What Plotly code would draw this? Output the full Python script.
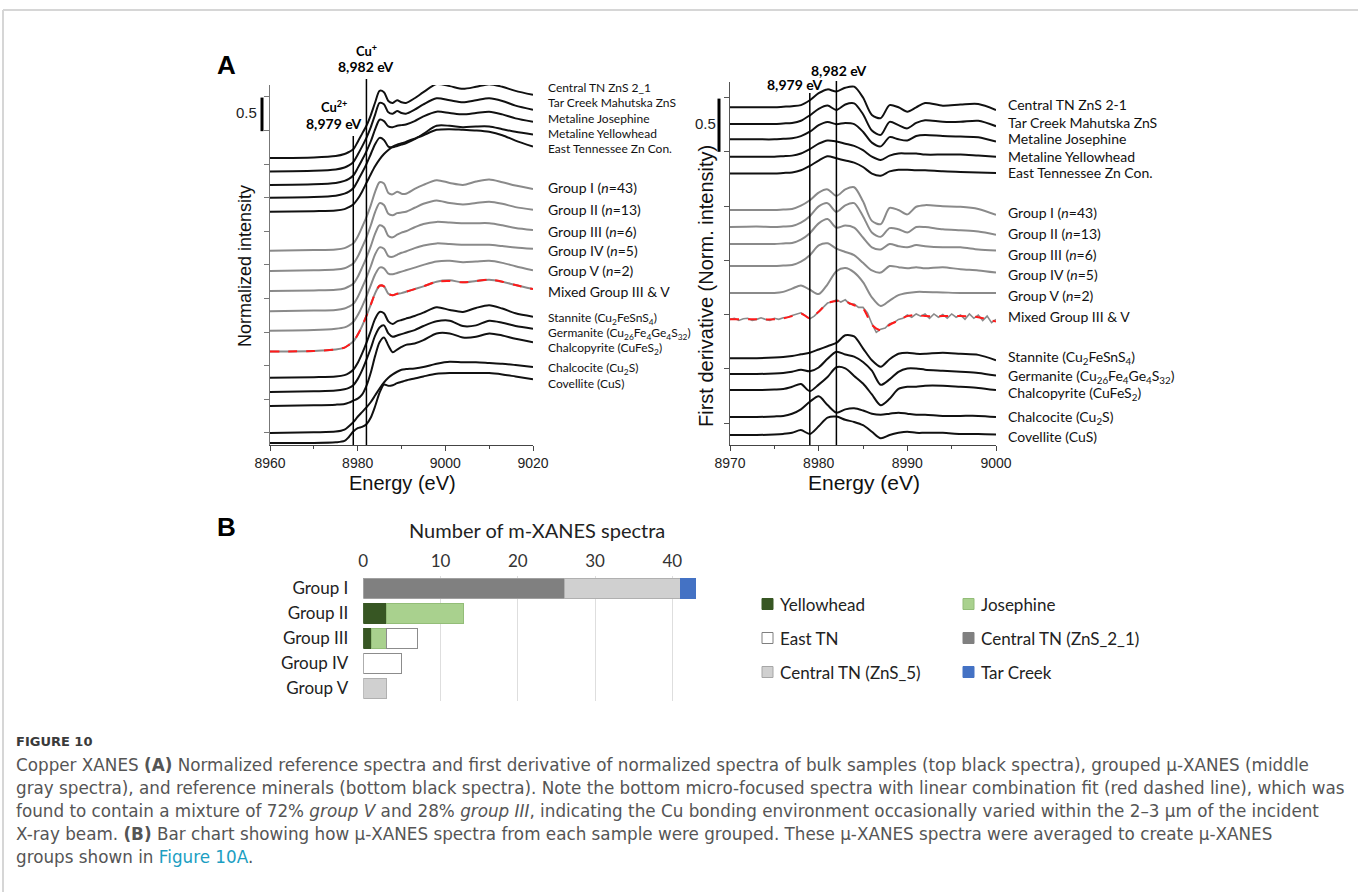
import numpy as np
import plotly.graph_objects as go

W, H = 1358, 892
def fx(p):
    return p / W
def fy(p):
    return 1 - p / H

# ---------------- DATA: normalized XANES (panel A, left) ----------------
energy_norm = [8960, 8970, 8975, 8977, 8978, 8979, 8980, 8981, 8982, 8983, 8984, 8985, 8986, 8987,
               8988, 8989, 8990, 8991, 8993, 8995, 8998, 9001, 9004, 9007, 9010, 9013, 9016, 9020]
norm_central_tn = [0, .01, .03, .06, .09, .13, .24, .36, .48, .64, .83, 1.0, .98, .85, .82, .86, .83, .82, .89, .98, 1.10, 1.07, 1.03, 1.06, 1.10, 1.06, 1.0, .94]
norm_tar_creek = [0, .01, .03, .06, .09, .14, .25, .37, .50, .66, .85, 1.02, 1.0, .88, .86, .90, .87, .86, .92, 1.0, 1.09, 1.06, 1.03, 1.06, 1.09, 1.05, .98, .92]
norm_josephine = [0, .01, .03, .06, .09, .14, .25, .37, .50, .65, .83, .97, .95, .87, .86, .88, .89, .90, .95, 1.02, 1.09, 1.07, 1.05, 1.07, 1.09, 1.05, .99, .94]
norm_yellowhead = [0, .01, .03, .06, .09, .14, .25, .37, .50, .65, .80, .89, .86, .76, .75, .77, .79, .81, .87, .95, 1.07, 1.07, 1.05, 1.06, 1.06, 1.02, .98, .94]
norm_east_tn = [0, .01, .02, .04, .07, .11, .19, .30, .43, .56, .68, .78, .86, .92, .97, 1.0, 1.02, 1.04, 1.09, 1.14, 1.22, 1.23, 1.22, 1.21, 1.19, 1.14, 1.06, .97]
norm_group1 = [0, .01, .02, .04, .07, .11, .21, .35, .50, .68, .88, 1.02, 1.0, .86, .84, .88, .85, .85, .92, .98, 1.05, 1.01, .98, 1.03, 1.06, 1.02, .97, .92]
norm_group2 = [0, .01, .02, .04, .07, .11, .21, .35, .50, .68, .88, 1.01, .98, .85, .83, .86, .87, .88, .94, 1.0, 1.05, 1.01, .99, 1.01, 1.03, 1.0, .95, .91]
norm_group3 = [0, .01, .02, .04, .07, .11, .21, .35, .50, .67, .86, .98, .95, .82, .80, .84, .87, .89, .95, 1.0, 1.03, 1.02, 1.01, 1.01, 1.01, .98, .94, .91]
norm_group4 = [0, .01, .02, .04, .07, .11, .21, .35, .50, .67, .85, .95, .93, .82, .81, .84, .87, .89, .94, .98, 1.01, 1.0, .99, .99, .99, .97, .95, .93]
norm_group5 = [0, .01, .03, .05, .08, .13, .23, .36, .51, .68, .84, .94, .93, .85, .84, .86, .88, .90, .94, .98, 1.03, 1.04, 1.02, 1.03, 1.04, 1.01, .96, .90]
norm_mixed = [0, .01, .03, .06, .10, .15, .25, .38, .53, .70, .87, .98, .97, .86, .84, .86, .87, .89, .93, .97, 1.04, 1.06, 1.03, 1.05, 1.07, 1.04, .99, .93]
norm_mixed_fit = [0, .01, .03, .06, .10, .15, .25, .38, .53, .70, .87, .98, .97, .86, .84, .86, .87, .89, .93, .97, 1.04, 1.05, 1.03, 1.05, 1.07, 1.04, .99, .93]
norm_stannite = [0, .01, .02, .04, .07, .12, .22, .36, .52, .70, .88, .98, .96, .84, .80, .84, .86, .88, .92, .97, 1.05, 1.01, .98, 1.04, 1.08, 1.03, .96, .91]
norm_germanite = [0, .01, .02, .04, .06, .10, .19, .32, .48, .65, .84, .96, .99, .87, .82, .84, .86, .88, .92, .98, 1.05, 1.06, .98, .99, 1.06, 1.03, .98, .94]
norm_chalcopyrite = [0, .01, .02, .03, .05, .08, .11, .17, .30, .50, .75, .95, 1.02, .90, .80, .84, .88, .91, .93, .98, 1.08, 1.08, 1.02, 1.03, 1.08, 1.05, 1.0, .95]
norm_chalcocite = [0, .01, .02, .05, .10, .16, .24, .31, .38, .46, .56, .66, .75, .82, .87, .91, .94, .95, .96, .98, 1.03, 1.06, 1.05, 1.05, 1.04, 1.03, 1.01, .98]
norm_covellite = [0, .0, .01, .03, .09, .17, .22, .24, .28, .38, .55, .75, .87, .85, .86, .89, .91, .93, .96, .99, 1.03, 1.04, 1.04, 1.04, 1.04, 1.02, .99, .95]

# ---------------- DATA: first derivative (panel A, right) ----------------
energy_deriv = [8970, 8973, 8975, 8976, 8977, 8978, 8979, 8980, 8981, 8982, 8983, 8984, 8985, 8986,
                8987, 8988, 8989, 8990, 8991, 8992, 8994, 8996, 8998, 9000]
deriv_central_tn = [0, 0, 0, .005, .01, .02, .065, .13, .165, .145, .18, .19, .09, -.07, -.10, .02, .0, -.04, .0, .04, .015, .025, .03, -.025]
deriv_tar_creek = [0, 0, 0, .005, .01, .03, .08, .14, .17, .13, .18, .19, .09, -.06, -.10, .02, -.01, -.04, .01, .035, .02, .02, .03, -.02]
deriv_josephine = [0, 0, 0, .005, .01, .03, .07, .13, .16, .14, .15, .14, .07, -.03, -.065, .02, .0, -.01, .03, .04, .03, .025, .02, -.02]
deriv_yellowhead = [0, 0, 0, .005, .01, .03, .07, .12, .15, .14, .12, .10, .06, .0, -.03, .01, .03, .03, .03, .02, .02, .02, .01, .0]
deriv_east_tn = [0, 0, 0, .005, .01, .03, .07, .12, .16, .14, .12, .10, .06, .0, -.02, .02, .035, .035, .03, .03, .02, .015, .01, .005]
deriv_group1 = [0, 0, 0, .005, .01, .04, .09, .16, .19, .13, .19, .21, .08, -.10, -.13, .02, .0, -.04, .03, .045, .035, .03, .01, -.045]
deriv_group2 = [0, .005, 0, .005, .01, .04, .10, .19, .22, .14, .20, .22, .10, -.05, -.09, -.01, -.02, -.05, .0, .0, -.02, -.03, -.04, -.07]
deriv_group3 = [0, 0, 0, .005, .01, .04, .10, .19, .23, .15, .17, .15, .06, -.03, -.05, .0, -.02, -.03, -.01, -.02, -.03, -.03, -.05, -.06]
deriv_group4 = [0, 0, 0, .005, .01, .04, .10, .19, .21, .16, .13, .10, .03, -.04, -.06, .0, -.01, -.02, -.01, -.02, -.01, -.03, -.04, -.06]
deriv_group5 = [0, 0, 0, .01, .04, .07, .03, -.01, .08, .20, .23, .19, .10, -.04, -.12, -.07, -.02, .0, .01, .01, .005, .0, .0, .0]
deriv_mixed_fit = [0, 0, 0, .01, .03, .055, .01, .07, .15, .17, .165, .13, .10, -.05, -.10, -.05, -.01, .03, .04, .03, .03, .03, .02, -.02]
deriv_stannite = [0, 0, .005, .01, .02, .035, .05, .08, .11, .14, .21, .20, .09, -.02, -.08, -.01, .04, .05, .04, .04, .05, .04, .03, -.02]
deriv_germanite = [0, 0, .005, .01, .02, .04, .025, .06, .14, .205, .18, .16, .11, .03, -.10, -.05, .02, .05, .05, .04, .03, .02, .01, -.015]
deriv_chalcopyrite = [0, 0, .005, .01, .03, .055, -.01, .05, .12, .21, .20, .13, .06, -.04, -.14, -.08, .01, .03, .03, .04, .04, .03, .02, .0]
deriv_chalcocite = [0, 0, .005, .01, .03, .07, .14, .19, .11, .04, .07, .08, .06, .03, .02, .03, .04, .03, .02, .02, .01, .01, .01, .0]
deriv_covellite = [0, 0, .005, .01, .02, .045, .01, .08, .16, .17, .14, .12, .09, .03, -.03, .0, .02, .03, .02, .02, .02, .01, .01, .005]

# noisy micro-focused spectrum (mixed group III & V), 0.5 eV steps 8970-9000
energy_mixed_raw = list(np.arange(8970, 9000.01, 0.5))
deriv_mixed_raw = [.00, .01, -.01, .005, .01, -.01, .00, .015, .00, -.01, .01, .00, .015, .02, .035, .05,
                   .06, .035, .005, .03, .07, .11, .15, .16, .18, .16, .18, .14, .14, .11, .11, .06,
                   -.04, -.12, -.09, -.08, -.04, -.03, .00, .01, .04, .02, .05, .03, .05, .01, .05, .02,
                   .045, .01, .05, .02, .04, .00, .05, .01, .04, -.01, .03, -.03, .00]

# ---------------- DATA: panel B bar chart ----------------
groups = ["Group I", "Group II", "Group III", "Group IV", "Group V"]
count_yellowhead = [None, 3, 1, None, None]
count_josephine = [None, 10, 2, None, None]
count_east_tn = [None, None, 4, 5, None]
count_central_2_1 = [26, None, None, None, None]
count_central_5 = [15, None, None, None, 3]
count_tar_creek = [2, None, None, None, None]
count_ticks = [0, 10, 20, 30, 40]

# ---------------- styling / layout ----------------
BLACK = "#111111"
GRAY = "#8a8a8a"
RED = "#ff1a1a"

fig = go.Figure()

left_series = [
    ("Central TN ZnS 2_1", norm_central_tn, 4.27, BLACK),
    ("Tar Creek Mahutska ZnS", norm_tar_creek, 4.07, BLACK),
    ("Metaline Josephine", norm_josephine, 3.87, BLACK),
    ("Metaline Yellowhead", norm_yellowhead, 3.68, BLACK),
    ("East Tennessee Zn Con.", norm_east_tn, 3.47, BLACK),
    ("Group I", norm_group1, 2.89, GRAY),
    ("Group II", norm_group2, 2.59, GRAY),
    ("Group III", norm_group3, 2.29, GRAY),
    ("Group IV", norm_group4, 1.99, GRAY),
    ("Group V", norm_group5, 1.70, GRAY),
    ("Mixed Group III & V", norm_mixed, 1.39, GRAY),
    ("Stannite", norm_stannite, 1.00, BLACK),
    ("Germanite", norm_germanite, 0.79, BLACK),
    ("Chalcopyrite", norm_chalcopyrite, 0.58, BLACK),
    ("Chalcocite", norm_chalcocite, 0.18, BLACK),
    ("Covellite", norm_covellite, 0.03, BLACK),
]
for name, vals, off, col in left_series:
    fig.add_trace(go.Scatter(x=energy_norm, y=np.array(vals) + off, mode="lines", name=name,
                             line=dict(color=col, width=2, shape="spline", smoothing=0.8),
                             xaxis="x", yaxis="y", showlegend=False))
fig.add_trace(go.Scatter(x=energy_norm, y=np.array(norm_mixed_fit) + 1.39, mode="lines",
                         name="LCF fit", line=dict(color=RED, width=2, dash="dash", shape="spline", smoothing=0.8),
                         xaxis="x", yaxis="y", showlegend=False))

right_series = [
    ("Central TN ZnS 2-1", deriv_central_tn, 3.11, BLACK),
    ("Tar Creek Mahutska ZnS", deriv_tar_creek, 2.956, BLACK),
    ("Metaline Josephine", deriv_josephine, 2.815, BLACK),
    ("Metaline Yellowhead", deriv_yellowhead, 2.655, BLACK),
    ("East Tennessee Zn Con.", deriv_east_tn, 2.50, BLACK),
    ("Group I", deriv_group1, 2.164, GRAY),
    ("Group II", deriv_group2, 2.007, GRAY),
    ("Group III", deriv_group3, 1.851, GRAY),
    ("Group IV", deriv_group4, 1.648, GRAY),
    ("Group V", deriv_group5, 1.40, GRAY),
    ("Stannite", deriv_stannite, 0.80, BLACK),
    ("Germanite", deriv_germanite, 0.654, BLACK),
    ("Chalcopyrite", deriv_chalcopyrite, 0.506, BLACK),
    ("Chalcocite", deriv_chalcocite, 0.258, BLACK),
    ("Covellite", deriv_covellite, 0.092, BLACK),
]
for name, vals, off, col in right_series:
    fig.add_trace(go.Scatter(x=energy_deriv, y=np.array(vals) + off, mode="lines", name=name,
                             line=dict(color=col, width=2, shape="spline", smoothing=0.8),
                             xaxis="x2", yaxis="y2", showlegend=False))
fig.add_trace(go.Scatter(x=energy_mixed_raw, y=np.array(deriv_mixed_raw) + 1.157, mode="lines",
                         name="Mixed Group III & V", line=dict(color=GRAY, width=1.6),
                         xaxis="x2", yaxis="y2", showlegend=False))
fig.add_trace(go.Scatter(x=energy_deriv, y=np.array(deriv_mixed_fit) + 1.157, mode="lines",
                         name="LCF fit", line=dict(color=RED, width=2, dash="dash", shape="spline", smoothing=0.8),
                         xaxis="x2", yaxis="y2", showlegend=False))

# ---- panel B bars ----
bar_specs = [
    ("Yellowhead", count_yellowhead, "#375623", "#375623"),
    ("Josephine", count_josephine, "#a9d18e", "#93bd78"),
    ("East TN", count_east_tn, "#ffffff", "#8c8c8c"),
    ("Central TN (ZnS_2_1)", count_central_2_1, "#808080", "#a0a0a0"),
    ("Central TN (ZnS_5)", count_central_5, "#d0d0d0", "#b0b0b0"),
    ("Tar Creek", count_tar_creek, "#4472c4", "#4472c4"),
]
for name, vals, fill, edge in bar_specs:
    fig.add_trace(go.Bar(y=groups, x=vals, orientation="h", name=name,
                         marker=dict(color=fill, line=dict(color=edge, width=1)),
                         xaxis="x3", yaxis="y3", showlegend=False))

AX_FONT = dict(family="Liberation Sans", size=14, color="#222")
fig.update_layout(
    width=W, height=H, margin=dict(l=0, r=0, t=0, b=0, pad=0, autoexpand=False),
    paper_bgcolor="white", plot_bgcolor="rgba(0,0,0,0)", showlegend=False,
    barmode="stack", bargap=0.2,
    xaxis=dict(domain=[fx(270), fx(533)], range=[8960, 9020], tickvals=[8960, 8980, 9000, 9020],
               ticks="outside", ticklen=5, tickcolor="#444", showline=True, linecolor="#444", linewidth=1.2,
               minor=dict(dtick=10, ticks="outside", ticklen=3, tickcolor="#444"), automargin=False,
               showgrid=False, zeroline=False, tickfont=AX_FONT, anchor="y"),
    yaxis=dict(domain=[fy(445), fy(85)], range=[0, 5.357], tick0=0.18, dtick=0.5, ticks="outside",
               ticklen=5, tickcolor="#777", showticklabels=False, showline=True, linecolor="#777",
               linewidth=1.2, showgrid=False, zeroline=False, anchor="x", automargin=False),
    xaxis2=dict(domain=[fx(730), fx(996)], range=[8970, 9000], tickvals=[8970, 8980, 8990, 9000],
                ticks="outside", ticklen=5, tickcolor="#444", showline=True, linecolor="#444", linewidth=1.2,
                minor=dict(dtick=5, ticks="outside", ticklen=3, tickcolor="#444"), automargin=False,
                showgrid=False, zeroline=False, tickfont=AX_FONT, anchor="y2"),
    yaxis2=dict(domain=[fy(445), fy(82)], range=[0, 3.343], tick0=0.2, dtick=0.5, ticks="outside",
                ticklen=5, tickcolor="#555", showticklabels=False, showline=True, linecolor="#555",
                linewidth=1.2, showgrid=False, zeroline=False, anchor="x2", automargin=False),
    xaxis3=dict(domain=[fx(363.3), fx(711)], range=[0, 45], tickvals=count_ticks, side="top",
                showgrid=True, gridcolor="#dedede", gridwidth=1, zeroline=False, showline=False,
                ticks="", ticklabelstandoff=4, automargin=False,
                tickfont=dict(family="Lato", size=17, color="#333"), anchor="y3"),
    yaxis3=dict(domain=[fy(700.5), fy(575.5)], type="category", categoryorder="array",
                categoryarray=groups, autorange="reversed", showgrid=False, zeroline=False,
                showline=False, ticks="", ticklabelstandoff=14, automargin=False,
                tickfont=dict(family="Lato", size=17, color="#222"), anchor="x3"),
)

shapes = []
# outer frame
shapes.append(dict(type="line", xref="paper", yref="paper", x0=fx(3), x1=1, y0=fy(10), y1=fy(10),
                   line=dict(color="#d6d6d6", width=2)))
shapes.append(dict(type="line", xref="paper", yref="paper", x0=fx(3), x1=fx(3), y0=fy(10), y1=0,
                   line=dict(color="#d6d6d6", width=2)))
# edge-energy markers
for xr, e, top in [("x", 8979, 136), ("x", 8982, 79), ("x2", 8979, 93), ("x2", 8982, 81)]:
    shapes.append(dict(type="line", xref=xr, yref="paper", x0=e, x1=e, y0=fy(445), y1=fy(top),
                       line=dict(color="#000", width=1.5)))
# 0.5 scale bars
shapes.append(dict(type="line", xref="paper", yref="y", x0=fx(262), x1=fx(262), y0=4.67, y1=5.17,
                   line=dict(color="#000", width=3)))
shapes.append(dict(type="line", xref="paper", yref="y2", x0=fx(719), x1=fx(719), y0=2.70, y1=3.19,
                   line=dict(color="#000", width=3)))
# manual two-column legend for panel B
legend_items = [
    ("Yellowhead", "#375623", "#375623", 762, 604),
    ("Josephine", "#a9d18e", "#93bd78", 963, 604),
    ("East TN", "#ffffff", "#7f7f7f", 762, 638),
    ("Central TN (ZnS_2_1)", "#808080", "#808080", 963, 638),
    ("Central TN (ZnS_5)", "#d0d0d0", "#a6a6a6", 762, 672),
    ("Tar Creek", "#4472c4", "#4472c4", 963, 672),
]
for _, fill, edge, lx, ly in legend_items:
    shapes.append(dict(type="rect", xref="paper", yref="paper", x0=fx(lx), x1=fx(lx + 11),
                       y0=fy(ly + 5.5), y1=fy(ly - 5.5), fillcolor=fill, line=dict(color=edge, width=1)))
fig.update_layout(shapes=shapes)

anns = []
def ann(text, x, y, size, family="Lato", color="#111", xanchor="left", angle=0, weight=None):
    f = dict(family=family, size=size, color=color)
    if weight:
        f["weight"] = weight
    anns.append(dict(text=text, x=fx(x), y=fy(y), xref="paper", yref="paper", showarrow=False,
                     xanchor=xanchor, yanchor="middle", textangle=angle, font=f))

# panel letters
ann("<b>A</b>", 227, 65, 26, "Liberation Sans", "#000", "center")
ann("<b>B</b>", 226, 527, 26, "Liberation Sans", "#000", "center")
# edge labels
ann("<b>Cu<sup>+</sup></b>", 366, 50, 13, "Lato", "#000", "center")
ann("<b>8,982 eV</b>", 366, 67, 14, "Lato", "#000", "center")
ann("<b>Cu<sup>2+</sup></b>", 334, 107, 13, "Lato", "#000", "center")
ann("<b>8,979 eV</b>", 334, 124, 14, "Lato", "#000", "center")
ann("<b>8,982 eV</b>", 839, 70, 14, "Lato", "#000", "center")
ann("<b>8,979 eV</b>", 795, 84, 14, "Lato", "#000", "center")
ann("0.5", 246, 113, 15, "Liberation Sans", "#222", "center")
ann("0.5", 705, 123, 15, "Liberation Sans", "#222", "center")
# axis titles
ann("Energy (eV)", 402, 483, 20, "Liberation Sans", "#111", "center")
ann("Energy (eV)", 864, 483, 21, "Liberation Sans", "#111", "center")
ann("Normalized intensity", 245, 266, 18, "Liberation Sans", "#111", "center", -90)
ann("First derivative (Norm. intensity)", 706, 286, 20, "Liberation Sans", "#111", "center", -90)

left_labels = [
    ("Central TN ZnS 2_1", 87, 12), ("Tar Creek Mahutska ZnS", 102, 12), ("Metaline Josephine", 118, 12),
    ("Metaline Yellowhead", 133, 12), ("East Tennessee Zn Con.", 148, 12),
    ("Group I (<i>n</i>=43)", 188, 14), ("Group II (<i>n</i>=13)", 209, 14), ("Group III (<i>n</i>=6)", 231, 14),
    ("Group IV (<i>n</i>=5)", 251, 14), ("Group V (<i>n</i>=2)", 271, 14), ("Mixed Group III &amp; V", 291, 14),
    ("Stannite (Cu<sub>2</sub>FeSnS<sub>4</sub>)", 318, 12),
    ("Germanite (Cu<sub>26</sub>Fe<sub>4</sub>Ge<sub>4</sub>S<sub>32</sub>)", 333, 12),
    ("Chalcopyrite (CuFeS<sub>2</sub>)", 348, 12), ("Chalcocite (Cu<sub>2</sub>S)", 368, 12),
    ("Covellite (CuS)", 383, 12),
]
for t, y, s in left_labels:
    ann(t, 546, y, s, "Lato", "#111")
right_labels = [
    ("Central TN ZnS 2-1", 104), ("Tar Creek Mahutska ZnS", 122), ("Metaline Josephine", 139),
    ("Metaline Yellowhead", 156), ("East Tennessee Zn Con.", 173),
    ("Group I (<i>n</i>=43)", 213), ("Group II (<i>n</i>=13)", 234), ("Group III (<i>n</i>=6)", 254),
    ("Group IV (<i>n</i>=5)", 274), ("Group V (<i>n</i>=2)", 295), ("Mixed Group III &amp; V", 316),
    ("Stannite (Cu<sub>2</sub>FeSnS<sub>4</sub>)", 358),
    ("Germanite (Cu<sub>26</sub>Fe<sub>4</sub>Ge<sub>4</sub>S<sub>32</sub>)", 376),
    ("Chalcopyrite (CuFeS<sub>2</sub>)", 393), ("Chalcocite (Cu<sub>2</sub>S)", 417), ("Covellite (CuS)", 436),
]
for t, y in right_labels:
    ann(t, 1006, y, 14, "Lato", "#111")

# panel B title + legend text
ann("Number of m-XANES spectra", 537, 530, 20, "Lato", "#222", "center")
for t, _, _, lx, ly in legend_items:
    ann(t, lx + 16, ly, 17, "Lato", "#222")

# caption
CAP = "#555555"
ann("<b>FIGURE 10</b>", 14, 741, 13, "DejaVu Sans", "#3a3a3a")
cap_lines = [
    "Copper XANES <b>(A)</b> Normalized reference spectra and first derivative of normalized spectra of bulk samples (top black spectra), grouped μ-XANES (middle",
    "gray spectra), and reference minerals (bottom black spectra). Note the bottom micro-focused spectra with linear combination fit (red dashed line), which was",
    "found to contain a mixture of 72% <i>group V</i> and 28% <i>group III</i>, indicating the Cu bonding environment occasionally varied within the 2–3 μm of the incident",
    "X-ray beam. <b>(B)</b> Bar chart showing how μ-XANES spectra from each sample were grouped. These μ-XANES spectra were averaged to create μ-XANES",
    "groups shown in <span style='color:#1b9ec2'>Figure 10A</span>.",
]
for i, t in enumerate(cap_lines):
    ann(t, 14, 765 + 23 * i, 16.8, "DejaVu Sans", CAP)

fig.update_layout(annotations=anns)
fig.write_html("out.html", config={"displayModeBar": False},
               post_script="document.body.style.margin='0';")
